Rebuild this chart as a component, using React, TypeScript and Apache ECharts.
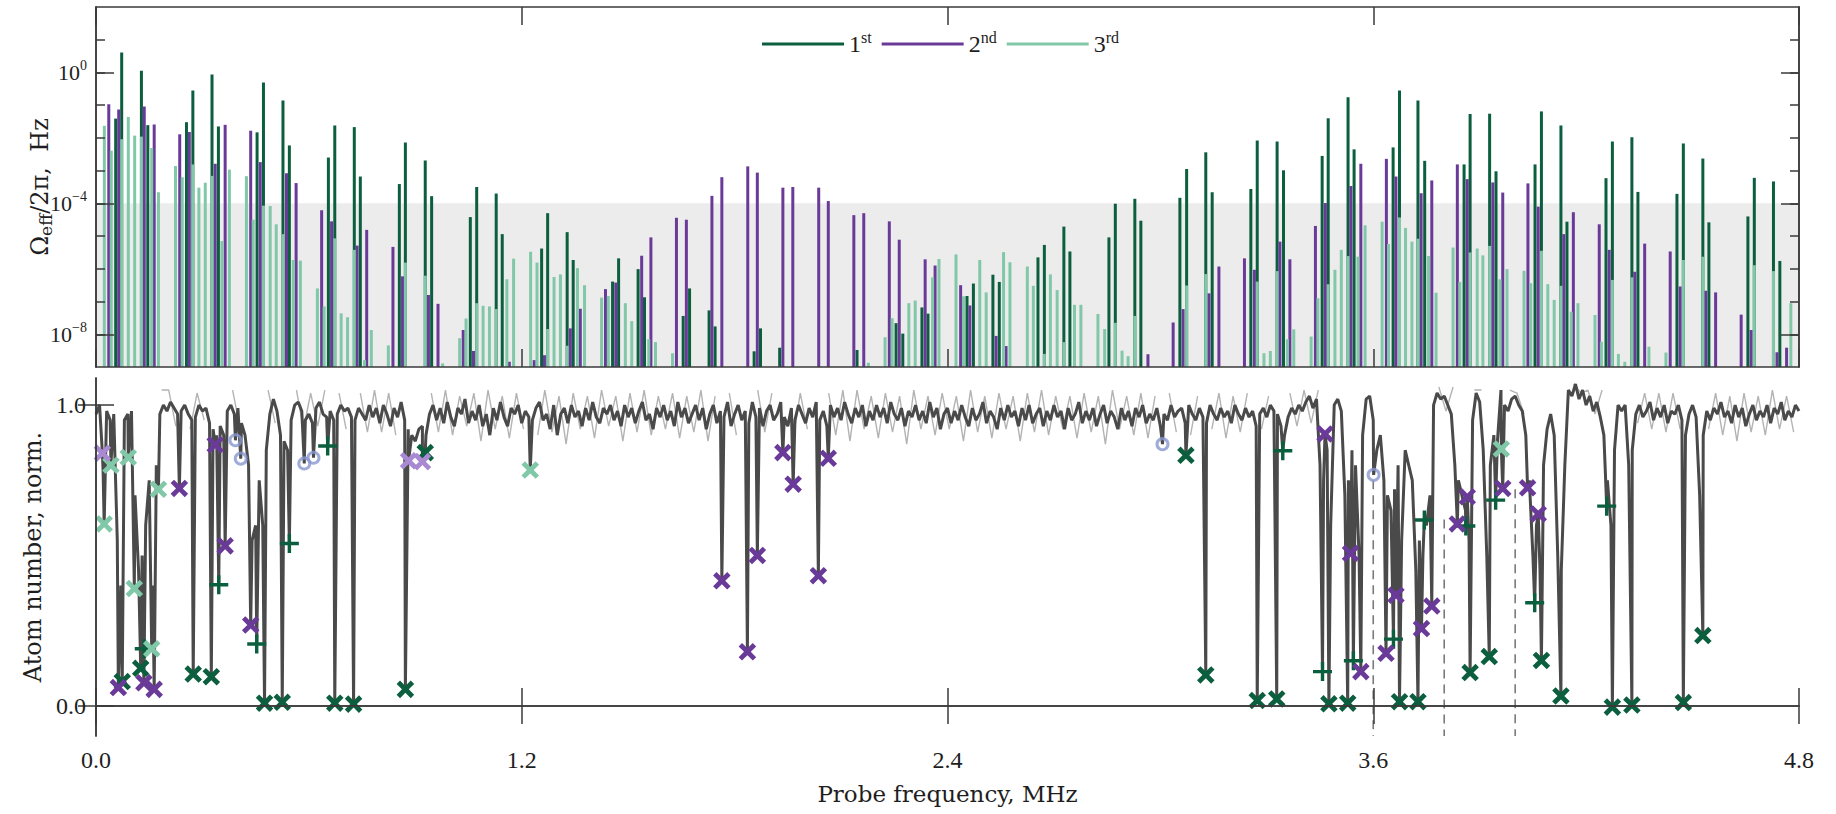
import React, { useEffect, useRef } from "react";
import * as echarts from "echarts";

// ---------------- data ----------------
const freqMin = 0;
const freqMax = 4.8;
const freqInterval = 1.2;

const omegaMin = 1e-9;
const omegaMax = 1e2;
const omegaDecades = [1e-8, 1e-7, 1e-6, 1e-5, 1e-4, 1e-3, 1e-2, 1e-1, 1, 10];
const omegaLabelled = [1e-8, 1e-4, 1];
// [start MHz, end MHz, upper Ω] of the shaded band
const shadedBand = [[0, 4.8, 1e-4]];

const atomMin = -0.1;
const atomMax = 1.09;
const atomTicks = [0, 1];

const orderNames = ["1st", "2nd", "3rd"];

// [probe frequency MHz, log10(Ω_eff/2π / Hz)]
const firstOrder = [
  [0.0555, -1.41], [0.0724, 0.61], [0.128, 0.05], [0.146, -1.61], [0.255, -1.52], [0.273, -0.55], [0.327, -0.06], [0.345, -1.65],
  [0.454, -1.83], [0.472, -0.31], [0.527, -0.86], [0.545, -2.23], [0.655, -2.6], [0.673, -1.62], [0.728, -1.67], [0.745, -3.18],
  [0.855, -3.41], [0.872, -2.14], [0.928, -2.69], [0.946, -3.78], [1.055, -4.42], [1.073, -3.5], [1.128, -3.7], [1.145, -4.94],
  [1.256, -5.38], [1.273, -4.3], [1.328, -4.88], [1.345, -5.73], [1.456, -6.39], [1.473, -5.68], [1.528, -6.01], [1.546, -6.87],
  [1.655, -7.44], [1.673, -6.6], [1.728, -7.27], [1.745, -7.76], [1.855, -8.52], [1.873, -7.82], [1.927, -8.41], [2.145, -8.48],
  [2.255, -7.66], [2.274, -7.98], [2.328, -7.18], [2.345, -7.37], [2.455, -6.83], [2.473, -6.45], [2.528, -6.18], [2.546, -6.4],
  [2.655, -5.65], [2.673, -5.27], [2.728, -4.71], [2.745, -5.47], [2.855, -5.04], [2.873, -4.01], [2.928, -3.86], [2.945, -4.53],
  [3.055, -3.83], [3.074, -2.95], [3.128, -2.44], [3.146, -3.66], [3.255, -3.56], [3.273, -2.08], [3.329, -2.11], [3.347, -2.99],
  [3.456, -2.55], [3.473, -1.4], [3.529, -0.76], [3.546, -2.35], [3.656, -2.29], [3.674, -0.55], [3.726, -0.86], [3.745, -2.7],
  [3.856, -2.81], [3.873, -1.27], [3.928, -1.26], [3.946, -3.02], [4.056, -2.81], [4.074, -1.19], [4.129, -1.62], [4.146, -4.56],
  [4.256, -3.23], [4.274, -2.11], [4.329, -1.98], [4.346, -3.65], [4.456, -3.71], [4.474, -2.17], [4.529, -2.63], [4.546, -4.58],
  [4.656, -4.4], [4.674, -3.22], [4.728, -3.33], [4.746, -5.76],
];

const secondOrder = [
  [0.036, -0.97], [0.064, -1.13], [0.136, -1.04], [0.164, -1.59], [0.236, -1.89], [0.263, -1.82], [0.336, -2.79], [0.364, -1.6],
  [0.436, -1.78], [0.463, -2.74], [0.537, -3.08], [0.564, -3.38], [0.636, -4.21], [0.664, -4.55], [0.736, -5.29], [0.763, -4.81],
  [0.837, -5.33], [0.864, -6.23], [0.937, -6.8], [0.964, -7.07], [1.035, -7.87], [1.064, -8.51], [1.165, -8.84], [1.235, -8.79],
  [1.264, -8.64], [1.337, -7.82], [1.365, -7.22], [1.436, -6.62], [1.465, -6.42], [1.538, -5.6], [1.564, -5.04], [1.636, -4.44],
  [1.664, -4.5], [1.736, -3.77], [1.764, -3.2], [1.837, -2.87], [1.864, -3.06], [1.936, -3.52], [1.964, -3.5], [2.037, -3.52],
  [2.064, -3.93], [2.136, -4.36], [2.164, -4.3], [2.236, -4.55], [2.264, -5.11], [2.337, -5.71], [2.365, -5.9], [2.437, -6.5],
  [2.463, -7.12], [2.537, -8.05], [2.565, -8.36], [2.965, -8.61], [3.036, -7.64], [3.064, -7.23], [3.137, -6.75], [3.165, -5.93],
  [3.237, -5.68], [3.265, -6.03], [3.337, -5.17], [3.365, -5.71], [3.437, -4.69], [3.465, -3.99], [3.537, -3.47], [3.565, -2.79],
  [3.637, -2.64], [3.664, -3.18], [3.735, -3.69], [3.765, -3.3], [3.837, -2.81], [3.865, -3.26], [3.937, -3.36], [3.965, -3.67],
  [4.036, -3.39], [4.065, -4.1], [4.137, -4.94], [4.164, -4.27], [4.237, -4.64], [4.265, -5.42], [4.337, -6.09], [4.365, -5.23],
  [4.437, -5.47], [4.465, -6.54], [4.537, -6.67], [4.565, -6.72], [4.637, -7.4], [4.665, -7.87], [4.738, -8.55], [4.765, -8.41],
];

const thirdOrder = [
  [0.0235, -1.63], [0.043, -2.39], [0.0724, -2.04], [0.091, -1.36], [0.109, -1.93], [0.128, -1.96], [0.157, -2.31], [0.176, -3.66],
  [0.224, -2.86], [0.243, -3.2], [0.273, -2.81], [0.29, -3.52], [0.308, -3.37], [0.327, -3.16], [0.355, -5.15], [0.376, -2.97],
  [0.424, -3.17], [0.443, -4.5], [0.472, -4.07], [0.491, -4.08], [0.508, -4.64], [0.527, -4.94], [0.556, -5.73], [0.576, -5.75],
  [0.624, -6.6], [0.643, -7.15], [0.673, -5.07], [0.691, -7.36], [0.709, -7.48], [0.728, -5.42], [0.757, -8.79], [0.776, -7.87],
  [0.824, -8.34], [0.872, -5.81], [0.928, -6.21], [0.977, -8.89], [1.025, -8.12], [1.043, -7.52], [1.073, -7.05], [1.091, -7.13],
  [1.109, -7.15], [1.128, -7.23], [1.158, -6.32], [1.177, -5.69], [1.225, -5.48], [1.243, -5.81], [1.273, -7.84], [1.291, -6.25],
  [1.309, -6.17], [1.328, -8.35], [1.357, -5.98], [1.377, -6.5], [1.425, -6.88], [1.444, -6.83], [1.492, -7.05], [1.51, -7.6],
  [1.558, -8.15], [1.577, -8.24], [1.625, -8.58], [2.177, -8.87], [2.224, -8.09], [2.244, -7.51], [2.291, -7.05], [2.309, -6.97],
  [2.358, -6.26], [2.376, -5.7], [2.424, -5.56], [2.445, -6.84], [2.491, -5.73], [2.509, -6.72], [2.558, -5.49], [2.576, -5.8],
  [2.625, -5.93], [2.642, -6.52], [2.673, -8.6], [2.69, -6.17], [2.709, -6.65], [2.728, -8.24], [2.758, -7.1], [2.776, -7.1],
  [2.824, -7.38], [2.843, -7.84], [2.873, -7.65], [2.892, -8.5], [2.909, -8.67], [2.928, -7.44], [3.074, -6.51], [3.128, -6.16],
  [3.273, -6.39], [3.292, -8.58], [3.31, -8.51], [3.329, -6.07], [3.358, -8.15], [3.376, -7.85], [3.425, -8.07], [3.444, -6.9],
  [3.473, -6.47], [3.492, -6.03], [3.51, -5.42], [3.529, -5.61], [3.557, -5.63], [3.577, -4.67], [3.625, -4.56], [3.643, -5.24],
  [3.674, -4.43], [3.691, -4.75], [3.709, -5.17], [3.726, -5.08], [3.756, -5.61], [3.777, -6.73], [3.825, -5.35], [3.844, -6.4],
  [3.873, -5.5], [3.893, -5.38], [3.909, -5.59], [3.928, -5.3], [3.957, -6.32], [3.977, -6.01], [4.025, -6.06], [4.044, -6.44],
  [4.074, -5.45], [4.092, -6.47], [4.11, -6.95], [4.129, -6.52], [4.158, -7.31], [4.177, -7.05], [4.225, -7.41], [4.243, -8.23],
  [4.274, -6.34], [4.291, -8.6], [4.309, -8.84], [4.329, -6.26], [4.377, -8.38], [4.425, -8.56], [4.474, -5.73], [4.529, -5.63],
  [4.674, -5.89], [4.728, -6.07], [4.777, -7.05],
];

// Loss features, [probe frequency MHz, normalised atom number]
const plusFirst = [
  [0.136, 0.19], [0.346, 0.403], [0.453, 0.206], [0.545, 0.54], [0.653, 0.864], [3.345, 0.848], [3.457, 0.114],
  [3.544, 0.15], [3.657, 0.222], [3.744, 0.618], [3.861, 0.598], [3.945, 0.684], [4.055, 0.343], [4.258, 0.664],
];
const crossFirst = [
  [0.074, 0.081], [0.126, 0.125], [0.274, 0.106], [0.325, 0.097], [0.475, 0.009], [0.525, 0.012], [0.673, 0.009],
  [0.726, 0.006], [0.872, 0.055], [0.928, 0.842], [3.072, 0.833], [3.128, 0.103], [3.273, 0.018], [3.328, 0.023],
  [3.475, 0.007], [3.528, 0.009], [3.674, 0.014], [3.726, 0.014], [3.873, 0.111], [3.927, 0.164], [4.074, 0.151],
  [4.129, 0.033], [4.274, -0.004], [4.329, 0.003], [4.474, 0.011], [4.529, 0.234],
];
const crossSecond = [
  [0.063, 0.061], [0.135, 0.077], [0.164, 0.055], [0.235, 0.723], [0.336, 0.868], [0.364, 0.532], [0.436, 0.269],
  [1.764, 0.416], [1.836, 0.18], [1.864, 0.5], [1.936, 0.842], [1.965, 0.737], [2.036, 0.433], [2.064, 0.823],
  [3.464, 0.904], [3.536, 0.507], [3.565, 0.114], [3.636, 0.175], [3.664, 0.368], [3.736, 0.257], [3.765, 0.332],
  [3.837, 0.605], [3.865, 0.695], [3.965, 0.723], [4.035, 0.725], [4.065, 0.638],
];
const crossThird = [
  [0.023, 0.605], [0.042, 0.8], [0.091, 0.826], [0.108, 0.39], [0.157, 0.19], [0.176, 0.72], [1.224, 0.784], [3.961, 0.854],
];
const crossLight = [[0.018, 0.84], [0.881, 0.815], [0.92, 0.812]];
const ringFeatures = [[0.393, 0.883], [0.408, 0.822], [0.587, 0.806], [0.613, 0.825], [3.006, 0.87], [3.601, 0.768]];

// dashed guides [MHz, top of guide]
const guideLines = [[3.6, 0.75], [3.8, 0.62], [4.0, 0.72]];

// smoothed atom-number trace, sampled every 0.01 MHz from 0.00 to 4.80
const traceStep = 0.01;
const traceLevels = [
  0.97, 1.0, 0.78, 0.98, 0.95, 0.97, 0.55, 0.4, 0.95, 0.97,
  0.98, 0.7, 0.45, 0.5, 0.6, 0.75, 0.4, 0.8, 0.97, 1.0,
  0.98, 1.01, 0.99, 0.97, 0.98, 1.0, 0.97, 0.95, 0.96, 1.0,
  0.98, 0.99, 0.94, 0.92, 0.9, 0.93, 0.9, 0.98, 1.0, 0.97,
  0.99, 0.94, 0.9, 0.8, 0.55, 0.6, 0.75, 0.6, 0.85, 0.97,
  1.02, 0.98, 0.9, 0.88, 0.85, 0.95, 1.0, 1.01, 0.98, 0.95,
  0.97, 0.94, 0.99, 1.01, 0.97, 0.96, 0.98, 0.95, 0.97, 1.0,
  0.98, 0.99, 0.96, 0.95, 0.99, 0.97, 0.95, 1.0, 0.96, 0.99,
  0.94, 1.0, 0.97, 0.93, 0.99, 0.96, 1.01, 0.95, 0.92, 0.9,
  0.88, 0.92, 0.93, 0.9, 0.97, 1.0, 0.95, 0.99, 0.94, 1.01,
  0.96, 0.93, 0.99, 0.97, 1.02, 0.94, 0.98, 0.95, 1.0, 0.93,
  0.97, 0.9, 0.99, 0.95, 1.01, 0.96, 0.93, 0.99, 0.97, 1.0,
  0.94, 0.98, 0.96, 0.95, 0.99, 1.01, 0.95, 0.97, 0.92, 1.0,
  0.9, 0.97, 0.99, 0.94, 1.0, 0.96, 0.98, 0.93, 0.99, 0.95,
  1.01, 0.96, 0.94, 0.99, 0.97, 1.0, 0.95, 0.98, 0.93, 1.0,
  0.96, 0.99, 0.94, 0.98, 1.01, 0.95, 0.97, 0.92, 0.99, 0.96,
  1.0, 0.95, 0.98, 0.93, 1.01, 0.96, 0.99, 0.94, 0.97, 1.0,
  0.95, 0.99, 0.92, 0.97, 1.0, 0.94, 0.98, 0.96, 1.01, 0.93,
  0.97, 1.0, 0.95, 0.98, 0.94, 1.01, 0.96, 0.99, 0.93, 0.98,
  1.0, 0.95, 0.97, 1.01, 0.96, 0.93, 0.99, 0.95, 1.0, 0.97,
  0.94, 0.99, 0.96, 1.01, 0.95, 0.98, 0.93, 1.0, 0.96, 0.99,
  0.95, 1.01, 0.97, 0.94, 0.99, 0.96, 1.0, 0.93, 0.98, 0.95,
  1.0, 0.96, 0.99, 0.94, 1.01, 0.97, 0.95, 0.99, 0.93, 0.98,
  0.96, 1.0, 0.95, 0.98, 0.94, 1.01, 0.96, 0.99, 0.92, 0.97,
  0.99, 0.94, 0.98, 0.95, 1.0, 0.96, 0.93, 0.99, 0.95, 0.97,
  1.01, 0.94, 0.98, 0.96, 0.92, 0.99, 0.95, 1.0, 0.96, 0.98,
  0.93, 0.99, 0.95, 1.0, 0.94, 0.97, 0.99, 0.93, 0.98, 0.95,
  1.0, 0.96, 0.98, 0.92, 0.99, 0.95, 0.97, 1.01, 0.94, 0.98,
  0.95, 0.99, 0.93, 0.97, 1.0, 0.94, 0.98, 0.96, 0.92, 0.99,
  0.95, 0.98, 0.93, 0.99, 0.96, 1.0, 0.94, 0.97, 0.95, 0.99,
  0.93, 0.97, 0.95, 1.0, 0.96, 0.98, 0.99, 0.94, 1.0, 0.97,
  0.95, 0.99, 0.96, 0.94, 1.0, 0.97, 0.95, 0.99, 0.96, 0.98,
  0.94, 1.0, 0.97, 0.95, 0.99, 0.96, 0.98, 0.93, 0.97, 0.99,
  0.96, 1.0, 0.98, 0.97, 0.93, 0.9, 0.96, 0.99, 0.97, 1.0,
  0.98, 1.01, 1.03, 0.99, 1.02, 0.8, 0.75, 0.85, 0.6, 1.0,
  1.02, 0.98, 0.7, 0.75, 0.85, 0.8, 0.5, 0.9, 1.02, 1.03,
  0.95, 0.85, 0.9, 0.75, 0.7, 0.65, 0.72, 0.8, 0.55, 0.85,
  0.8, 0.75, 0.45, 0.55, 0.5, 0.6, 0.7, 1.0, 1.04, 1.02,
  1.03, 1.0, 0.97, 0.8, 0.75, 0.7, 0.65, 0.55, 0.95, 1.04,
  1.01, 0.85, 0.5, 0.8, 0.9, 0.88, 1.05, 1.0, 0.98, 1.02,
  1.03, 1.0, 0.98, 0.9, 0.75, 0.5, 0.6, 0.45, 0.8, 0.92,
  0.97, 0.9, 0.5, 0.45, 0.8, 1.05, 1.03, 1.07, 1.02, 1.05,
  1.0, 1.03, 0.98, 1.01, 0.96, 0.9, 0.75, 0.6, 0.85, 1.0,
  0.98, 1.0, 0.8, 0.85, 0.97, 1.0, 0.96, 0.98, 1.01, 0.95,
  0.99, 0.96, 1.0, 0.94, 0.98, 0.97, 1.0, 0.95, 0.9, 0.97,
  1.0, 0.96, 0.7, 0.9, 0.98, 0.95, 0.99, 0.97, 1.01, 0.96,
  0.98, 0.94, 1.0, 0.96, 0.99, 0.93, 0.97, 1.0, 0.95, 0.98,
  0.96, 1.0, 0.94, 0.99, 0.97, 1.01, 0.95, 0.98, 0.96, 1.0,
  0.98,
];

// raw (unsmoothed) readings, sampled every 0.02 MHz from 0.005 MHz; null inside loss clusters
const rawStart = 0.005;
const rawStep = 0.02;
const rawLevels = [
  0.93, null, null, null, 1.04, null, null, null, null, 1.05,
  1.05, 0.93, null, 0.92, 1.04, 0.95, null, null, null, 1.05,
  0.93, null, null, null, 1.05, 0.94, null, null, 1.05, 0.92,
  1.04, 0.93, 1.05, null, 1.04, 0.92, null, 1.04, 0.91, 1.05,
  0.91, 1.04, 0.9, null, null, 0.88, null, 1.04, 0.91, 1.05,
  0.9, 1.03, 0.93, 1.04, 0.88, 1.05, 0.92, 1.03, 0.89, 1.04,
  0.92, null, 0.9, 1.05, 0.91, 1.03, 0.87, 1.04, 0.92, 1.03,
  0.89, 1.05, 0.93, 1.03, 0.88, 1.04, 0.91, 1.05, 0.9, 1.03,
  0.92, 1.04, 0.89, 1.03, 0.91, 1.05, 0.88, 1.03, null, 1.04,
  0.9, null, null, 1.05, 0.91, 1.04, null, null, 0.89, 1.04,
  0.92, null, null, 1.04, 0.9, 1.05, 0.88, 1.05, 0.92, 1.03,
  0.89, 1.04, 0.91, 1.03, 0.87, 1.05, 0.92, 1.03, 0.9, 1.04,
  0.92, 1.03, 0.88, 1.05, 0.91, 1.03, 0.89, 1.04, 0.92, 1.03,
  0.88, 1.04, 0.91, 1.05, 0.9, 1.03, 0.92, 1.03, 0.89, 1.04,
  0.91, 1.03, 0.87, 1.05, 0.92, 1.03, 0.9, 1.04, 0.89, 1.03,
  null, 1.04, 0.91, null, 0.9, 1.03, null, 0.92, 1.04, 0.89,
  1.03, 0.91, 1.04, null, 0.92, 1.03, null, null, 1.04, 0.93,
  1.05, 0.94, 1.05, null, null, 1.04, null, null, null, 1.06,
  null, 0.9, null, null, null, null, null, null, null, 1.06,
  0.98, 1.06, null, null, 1.05, 1.05, null, null, null, 1.05,
  1.04, 0.97, null, null, null, 0.95, null, null, 1.07, 1.04,
  1.05, 0.97, 1.05, null, null, 1.04, null, 0.94, 1.04, 0.92,
  1.04, 0.91, 1.04, 0.92, null, 1.04, null, 0.92, 1.04, 0.9,
  1.03, 0.88, 1.04, 0.91, 1.03, 0.9, 1.05, 0.92, 1.03, 0.91,
];

// ---------------- styling ----------------
const FONT = '"DejaVu Serif", "Liberation Serif", serif';
const NUM_FONT = '"Liberation Serif", "DejaVu Serif", serif';
const INK = "#1e1e1e";
const AXIS = "#3a3a3a";
const C1 = "#0b5e3e";
const C2 = "#6a3a98";
const C3 = "#80c8a8";
const C_LIGHT = "#a98ad2";
const C_RING = "#8797cf";

const PLUS = "path://M4.1,0H5.9V4.1H10V5.9H5.9V10H4.1V5.9H0V4.1H4.1Z";
const CROSS = "path://M3.8,0H6.2V3.8H10V6.2H6.2V10H3.8V6.2H0V3.8H3.8Z";

const TOP_GRID = { left: 96, top: 7, width: 1703, height: 360 };
const BOTTOM_GRID = { left: 96, top: 378, width: 1703, height: 358 };

function supText(v: number) {
  const e = Math.round(Math.log10(v));
  return `{b|10}{s|${e < 0 ? "\u2212" + -e : e}}`;
}

function orderBars(name: string, data: number[][], color: string) {
  return {
    type: "custom",
    name,
    xAxisIndex: 0,
    yAxisIndex: 0,
    itemStyle: { color },
    z: 3,
    data: data.map(([f, e]) => [f, Math.pow(10, e)]),
    renderItem: (_p: any, api: any) => {
      const top = api.coord([api.value(0), api.value(1)]);
      const base = api.coord([api.value(0), omegaMin]);
      return {
        type: "line",
        shape: { x1: top[0], y1: base[1], x2: top[0], y2: top[1] },
        style: { stroke: color, lineWidth: 3 },
      };
    },
  };
}

function markerSeries(data: number[][], symbol: string, size: number, color: string, rotate = 0) {
  return {
    type: "scatter",
    xAxisIndex: 2,
    yAxisIndex: 4,
    symbol,
    symbolSize: size,
    symbolRotate: rotate,
    itemStyle: { color, opacity: 1 },
    z: 5,
    data,
  };
}

export default function App() {
  const ref = useRef<HTMLDivElement>(null);

  useEffect(() => {
    document.body.style.margin = "0";
    if (!ref.current) return;
    const chart = echarts.init(ref.current, null, { renderer: "svg" });

    const trace = [
      ...traceLevels.map((v, i) => [Number((i * traceStep).toFixed(3)), v]),
      ...plusFirst, ...crossFirst, ...crossSecond, ...crossThird, ...crossLight, ...ringFeatures,
    ].sort((a, b) => a[0] - b[0]);
    const raw = rawLevels.map((v, i) => [Number((rawStart + i * rawStep).toFixed(3)), v]);

    const axisLine = { show: true, lineStyle: { color: AXIS, width: 1.5 } };
    const nameStyle = { fontFamily: FONT, fontSize: 24, color: INK };
    const numStyle = { fontFamily: NUM_FONT, fontSize: 24, color: INK };

    const xBase = {
      type: "value",
      min: freqMin,
      max: freqMax,
      interval: freqInterval,
      axisLine,
      splitLine: { show: false },
      axisTick: { show: true, inside: true, length: 18, lineStyle: { color: AXIS, width: 1.5 } },
      axisLabel: { show: false },
      z: 10,
    };
    const omegaShort = {
      type: "log",
      logBase: 10,
      gridIndex: 0,
      min: omegaMin,
      max: omegaMax,
      axisLine,
      splitLine: { show: false },
      axisTick: { show: true, inside: true, length: 9, customValues: omegaDecades, lineStyle: { color: AXIS, width: 1.5 } },
      axisLabel: { show: false },
      z: 10,
    };
    const omegaLong = {
      ...omegaShort,
      axisTick: { show: true, inside: true, length: 18, customValues: omegaLabelled, lineStyle: { color: AXIS, width: 1.5 } },
    };
    const atomAxis = {
      type: "value",
      gridIndex: 1,
      min: atomMin,
      max: atomMax,
      axisLine,
      splitLine: { show: false },
      axisTick: { show: true, inside: true, length: 18, customValues: atomTicks, lineStyle: { color: AXIS, width: 1.5 } },
      axisLabel: { show: false },
      z: 10,
    };

    chart.setOption({
      animation: false,
      backgroundColor: "#ffffff",
      textStyle: { fontFamily: FONT, color: INK },
      grid: [TOP_GRID, BOTTOM_GRID],
      legend: {
        top: 24,
        left: 757,
        itemWidth: 82,
        itemHeight: 3,
        itemGap: 10,
        icon: "rect",
        data: orderNames.map((n) => ({ name: n, icon: "rect" })),
        formatter: (name: string) => `{n|${name.charAt(0)}}{s|${name.slice(1)}}`,
        textStyle: {
          fontFamily: NUM_FONT,
          color: INK,
          rich: {
            n: { fontFamily: NUM_FONT, fontSize: 24, color: INK },
            s: { fontFamily: NUM_FONT, fontSize: 16, color: INK, padding: [0, 0, 14, 0] },
          },
        },
      },
      xAxis: [
        { ...xBase, gridIndex: 0, position: "bottom" },
        { ...xBase, gridIndex: 0, position: "top" },
        {
          ...xBase,
          gridIndex: 1,
          position: "bottom",
          axisLabel: { show: true, margin: 12, ...numStyle, formatter: (v: number) => v.toFixed(1) },
          name: "Probe frequency, MHz",
          nameLocation: "middle",
          nameGap: 46,
          nameTextStyle: { ...nameStyle, fontSize: 23 },
        },
        { ...xBase, gridIndex: 1, position: "top" },
      ],
      yAxis: [
        {
          ...omegaShort,
          position: "left",
          name: "{a|\u03A9}{sub|eff}{a|/2\u03C0,  Hz}",
          nameLocation: "middle",
          nameRotate: 90,
          nameGap: 42,
          nameTextStyle: {
            ...nameStyle,
            rich: {
              a: { fontFamily: FONT, fontSize: 24, color: INK },
              sub: { fontFamily: FONT, fontSize: 17, color: INK, padding: [12, 0, 0, 0] },
            },
          },
        },
        {
          ...omegaLong,
          position: "left",
          axisLabel: {
            show: true,
            margin: 9,
            customValues: omegaLabelled,
            formatter: (v: number) => supText(v),
            rich: {
              b: { fontFamily: NUM_FONT, fontSize: 22, color: INK },
              s: { fontFamily: NUM_FONT, fontSize: 14, color: INK, padding: [0, 0, 13, 0] },
            },
          },
        },
        { ...omegaShort, position: "right" },
        { ...omegaLong, position: "right" },
        {
          ...atomAxis,
          position: "left",
          axisLabel: { show: true, margin: 10, customValues: atomTicks, ...numStyle, formatter: (v: number) => v.toFixed(1) },
          name: "Atom number, norm.",
          nameLocation: "middle",
          nameRotate: 90,
          nameGap: 45,
          nameTextStyle: { ...nameStyle },
        },
        { ...atomAxis, position: "right" },
      ],
      series: [
        {
          type: "custom",
          xAxisIndex: 0,
          yAxisIndex: 0,
          silent: true,
          z: 1,
          encode: { x: [0, 1], y: 2 },
          data: shadedBand,
          renderItem: (_p: any, api: any) => {
            const a = api.coord([api.value(0), api.value(2)]);
            const b = api.coord([api.value(1), omegaMin]);
            return {
              type: "rect",
              shape: { x: a[0], y: a[1], width: b[0] - a[0], height: b[1] - a[1] },
              style: { fill: "#ececec" },
            };
          },
        },
        orderBars(orderNames[0], firstOrder, C1),
        orderBars(orderNames[1], secondOrder, C2),
        orderBars(orderNames[2], thirdOrder, C3),
        {
          type: "custom",
          xAxisIndex: 2,
          yAxisIndex: 4,
          silent: true,
          z: 2,
          data: guideLines,
          renderItem: (_p: any, api: any) => {
            const a = api.coord([api.value(0), api.value(1)]);
            const b = api.coord([api.value(0), atomMin]);
            return {
              type: "line",
              shape: { x1: a[0], y1: a[1], x2: b[0], y2: b[1] },
              style: { stroke: "#7a7a7a", lineWidth: 1.6, lineDash: [9, 6] },
            };
          },
        },
        {
          type: "line",
          xAxisIndex: 2,
          yAxisIndex: 4,
          data: raw,
          showSymbol: false,
          connectNulls: false,
          lineStyle: { color: "#b3b3b3", width: 1.4 },
          z: 3,
        },
        {
          type: "line",
          xAxisIndex: 2,
          yAxisIndex: 4,
          data: trace,
          showSymbol: false,
          lineStyle: { color: "#4a4a4a", width: 3 },
          z: 4,
        },
        markerSeries(plusFirst, PLUS, 19, C1),
        markerSeries(crossFirst, CROSS, 20, C1, 45),
        markerSeries(crossSecond, CROSS, 20, C2, 45),
        markerSeries(crossThird, CROSS, 20, C3, 45),
        markerSeries(crossLight, CROSS, 20, C_LIGHT, 45),
        {
          type: "scatter",
          xAxisIndex: 2,
          yAxisIndex: 4,
          symbol: "circle",
          symbolSize: 11,
          itemStyle: { color: "rgba(255,255,255,0)", borderColor: C_RING, borderWidth: 3 },
          z: 6,
          data: ringFeatures,
        },
      ],
    });

    return () => chart.dispose();
  }, []);

  return (
    <div
      ref={ref}
      style={{ position: "fixed", left: 0, top: 0, width: 1836, height: 814, background: "#ffffff" }}
    />
  );
}
